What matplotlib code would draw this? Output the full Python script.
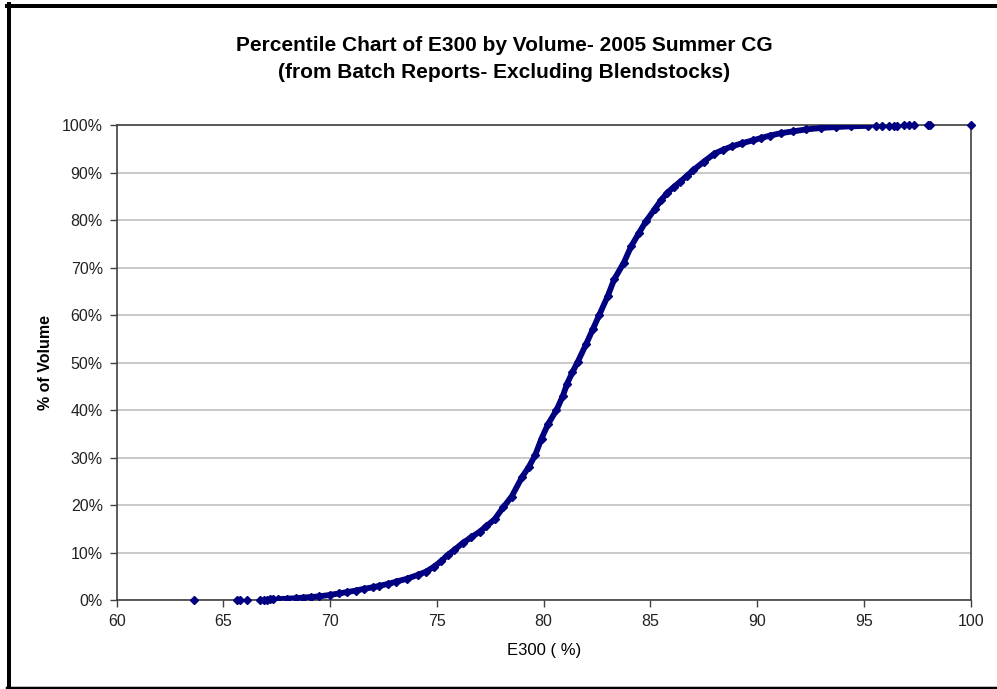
import matplotlib
matplotlib.use('Agg')
import matplotlib.pyplot as plt
from matplotlib.lines import Line2D
from matplotlib.ticker import FuncFormatter

plt.rcParams['font.family'] = ['Liberation Sans', 'DejaVu Sans']

# sparse points at the low end (E300 %, % of volume)
low_x = [63.6, 65.65, 65.78, 66.09, 66.72, 66.88, 67.03, 67.18, 67.34]
low_y = [0.0, 0.02, 0.03, 0.05, 0.08, 0.1, 0.12, 0.14, 0.16]

# dense body of the curve
body_x = [67.55, 68.0, 68.4, 68.75, 69.1, 69.5, 70.0, 70.4, 70.8, 71.2, 71.6,
          72.0, 72.3, 72.7, 73.1, 73.6, 74.1, 74.5, 74.85, 75.2, 75.5, 75.8,
          76.2, 76.6, 77.0, 77.3, 77.7, 78.1, 78.5, 79.0, 79.3, 79.6, 79.9,
          80.2, 80.6, 80.9, 81.1, 81.35, 81.6, 82.0, 82.3, 82.6, 83.0, 83.3,
          83.75, 84.1, 84.45, 84.8, 85.2, 85.5, 85.8, 86.1, 86.4, 86.7, 87.0,
          87.5, 88.0, 88.4, 88.8, 89.3, 89.8, 90.2, 90.6, 91.1, 91.7, 92.3,
          93.0, 93.7, 94.4, 95.2]
body_y = [0.2, 0.3, 0.4, 0.55, 0.65, 0.8, 1.1, 1.4, 1.7, 2.0, 2.4,
          2.7, 3.0, 3.4, 3.9, 4.5, 5.3, 6.0, 7.0, 8.2, 9.5, 10.5,
          12.0, 13.2, 14.4, 15.5, 17.0, 19.5, 21.8, 26.0, 28.0, 30.5, 34.0,
          37.0, 40.0, 43.0, 45.6, 48.0, 50.2, 54.0, 57.0, 60.0, 64.0, 67.5,
          71.0, 74.5, 77.2, 79.8, 82.3, 84.2, 85.8, 87.0, 88.1, 89.3, 90.5,
          92.3, 94.0, 94.8, 95.5, 96.2, 96.8, 97.3, 97.8, 98.3, 98.7, 99.1,
          99.4, 99.6, 99.75, 99.85]

# sparse points at the high end
high_x = [95.55, 95.86, 96.17, 96.4, 96.56, 96.87, 97.11, 97.34, 98.0, 98.1, 100.0]
high_y = [99.9, 99.9, 99.9, 99.92, 99.92, 99.93, 99.94, 99.95, 99.97, 99.98, 100.0]

x_ticks = [60, 65, 70, 75, 80, 85, 90, 95, 100]
y_ticks = [0, 10, 20, 30, 40, 50, 60, 70, 80, 90, 100]

navy = '#000080'
axis_col = '#404040'

fig = plt.figure(figsize=(9.97, 6.89), dpi=100)
ax = fig.add_axes([0.117, 0.129, 0.8566, 0.6894])

ax.plot(body_x, body_y, color=navy, linewidth=4.2, solid_capstyle='round', zorder=3)
ax.plot(body_x, body_y, linestyle='none', marker='D', markersize=4.4,
        color=navy, zorder=4)
ax.plot(low_x, low_y, linestyle='none', marker='D', markersize=4.4, color=navy,
        zorder=4, clip_on=False)
ax.plot(high_x, high_y, linestyle='none', marker='D', markersize=4.4, color=navy,
        zorder=4, clip_on=False)

ax.set_xlim(60, 100)
ax.set_ylim(0, 100)
ax.set_xticks(x_ticks)
ax.set_yticks(y_ticks)
ax.yaxis.set_major_formatter(FuncFormatter(lambda v, p: f'{int(v)}%'))
ax.grid(axis='y', color='#c0c0c0', linewidth=1.2)
ax.set_axisbelow(True)
for s in ax.spines.values():
    s.set_color(axis_col)
    s.set_linewidth(1.2)
ax.tick_params(direction='out', length=5, width=1, color=axis_col,
               labelsize=11.5, labelcolor='#222222', pad=5)

ax.set_xlabel('E300 ( %)', fontsize=12, labelpad=10)
ax.set_ylabel('% of Volume', fontsize=11.5, fontweight='bold', labelpad=6)

fig.text(0.506, 0.934, 'Percentile Chart of E300 by Volume- 2005 Summer CG',
         ha='center', va='center', fontsize=15, fontweight='bold')
fig.text(0.506, 0.895, '(from Batch Reports- Excluding Blendstocks)',
         ha='center', va='center', fontsize=15, fontweight='bold')

# outer chart frame (left, top, bottom)
fw = 4
fig.add_artist(Line2D([9 / 997, 9 / 997], [0, 1 - 4 / 689], transform=fig.transFigure,
                      color='black', linewidth=fw * 0.72))
fig.add_artist(Line2D([7 / 997, 1], [1 - 6 / 689, 1 - 6 / 689], transform=fig.transFigure,
                      color='black', linewidth=fw * 0.72))
fig.add_artist(Line2D([7 / 997, 1], [1.5 / 689, 1.5 / 689], transform=fig.transFigure,
                      color='black', linewidth=2.5 * 0.72))

fig.savefig('out.png', dpi=100)
